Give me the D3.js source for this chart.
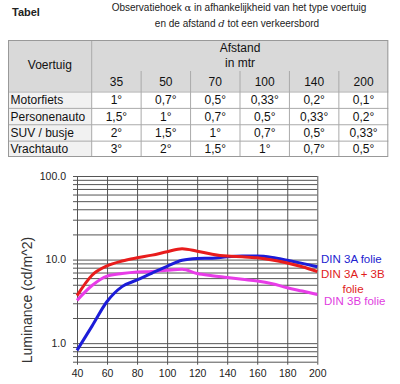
<!DOCTYPE html>
<html>
<head>
<meta charset="utf-8">
<script src="https://cdn.jsdelivr.net/npm/d3@7"></script>
<style>
  html, body { margin: 0; padding: 0; background: #fff; }
  svg { display: block; }
</style>
</head>
<body>
<div id="chart"></div>
<script>
// ---- table data ----
const distances = ['35', '50', '70', '100', '140', '200'];
const vehicles = ['Motorfiets', 'Personenauto', 'SUV / busje', 'Vrachtauto'];
const angles = [
  ['1°', '0,7°', '0,5°', '0,33°', '0,2°', '0,1°'],
  ['1,5°', '1°', '0,7°', '0,5°', '0,33°', '0,2°'],
  ['2°', '1,5°', '1°', '0,7°', '0,5°', '0,33°'],
  ['3°', '2°', '1,5°', '1°', '0,7°', '0,5°']
];

// ---- chart data ----
const xValues = [40, 50, 60, 70, 80, 90, 100, 110, 120, 130, 140, 150, 160, 170, 180, 190, 200];
const din3A   = [0.82, 1.6, 3.15, 4.75, 5.7, 6.9, 8.3, 9.8, 10.3, 10.4, 10.8, 11.0, 11.0, 10.6, 9.8, 9.0, 8.2];
const din3A3B = [3.7, 6.5, 8.4, 9.6, 10.5, 11.3, 12.4, 13.5, 12.6, 11.6, 11.0, 10.8, 10.5, 9.9, 9.1, 8.2, 7.2];
const din3B   = [3.25, 4.9, 6.35, 6.8, 7.1, 7.2, 7.45, 7.65, 6.8, 6.4, 6.1, 5.8, 5.55, 5.15, 4.6, 4.2, 3.83];
const xTicks = [40, 60, 80, 100, 120, 140, 160, 180, 200];
const yLabelTicks = [1, 10, 100];

const BLUE = '#1c1cd8';
const RED = '#e81c1c';
const MAGENTA = '#e83ce8';
const GRID = '#555';
const FONT = "'Liberation Sans', Arial, sans-serif";

const svg = d3.select('#chart').append('svg')
  .attr('width', 400)
  .attr('height', 384);

// ============================================================
// Heading + table
// ============================================================
svg.append('text')
  .attr('x', 12).attr('y', 16)
  .style('font-family', FONT).style('font-size', '11px').style('font-weight', 'bold')
  .style('fill', '#222')
  .text('Tabel');

const t1 = svg.append('text')
  .attr('x', 239).attr('y', 11)
  .attr('text-anchor', 'middle')
  .style('font-family', FONT).style('font-size', '10px').style('fill', '#222');
t1.append('tspan').text('Observatiehoek ');
t1.append('tspan').style('font-family', "'DejaVu Serif', serif").text('α');
t1.append('tspan').text(' in afhankelijkheid van het type voertuig');

const t2 = svg.append('text')
  .attr('x', 237).attr('y', 27)
  .attr('text-anchor', 'middle')
  .style('font-family', FONT).style('font-size', '10px').style('fill', '#222');
t2.append('tspan').text('en de afstand ');
t2.append('tspan').style('font-family', "'DejaVu Serif', serif").style('font-style', 'italic').text('d');
t2.append('tspan').text(' tot een verkeersbord');

const tbl = { left: 8, right: 388.3, top: 40, headBottom: 91.5, bottom: 157, firstCol: 91.7, numTop: 71 };
const colX = d3.scaleBand().domain(distances).range([tbl.firstCol, tbl.right]);
const rowY = d3.scaleBand().domain(vehicles).range([tbl.headBottom, tbl.bottom]);

const tg = svg.append('g');
tg.append('rect')
  .attr('x', tbl.left).attr('y', tbl.top)
  .attr('width', tbl.right - tbl.left).attr('height', tbl.headBottom - tbl.top)
  .attr('fill', '#d9d9d9');
tg.append('rect')
  .attr('x', tbl.left).attr('y', tbl.headBottom)
  .attr('width', tbl.firstCol - tbl.left).attr('height', tbl.bottom - tbl.headBottom)
  .attr('fill', '#f1f1f1');

// row lines
tg.selectAll('.hrow')
  .data(vehicles)
  .join('line')
  .attr('x1', tbl.left).attr('x2', tbl.right)
  .attr('y1', d => rowY(d) + 0.5).attr('y2', d => rowY(d) + 0.5)
  .attr('stroke', '#aaa');

// column lines
tg.selectAll('.vcol')
  .data(distances.slice(1))
  .join('line')
  .attr('x1', d => colX(d)).attr('x2', d => colX(d))
  .attr('y1', tbl.numTop).attr('y2', tbl.bottom)
  .attr('stroke', '#aaa');
tg.append('line')
  .attr('x1', tbl.firstCol).attr('x2', tbl.firstCol)
  .attr('y1', tbl.top).attr('y2', tbl.bottom)
  .attr('stroke', '#aaa');
tg.append('rect')
  .attr('x', tbl.left + 0.5).attr('y', tbl.top + 0.5)
  .attr('width', tbl.right - tbl.left - 1).attr('height', tbl.bottom - tbl.top - 1)
  .attr('fill', 'none').attr('stroke', '#999');

const cellText = sel => sel
  .style('font-family', FONT).style('font-size', '12px').style('fill', '#111')
  .attr('dominant-baseline', 'central');

tg.append('text').call(cellText)
  .attr('x', (tbl.left + tbl.firstCol) / 2).attr('y', 65)
  .attr('text-anchor', 'middle').text('Voertuig');
tg.append('text').call(cellText)
  .attr('x', (tbl.firstCol + tbl.right) / 2).attr('y', 48)
  .attr('text-anchor', 'middle').text('Afstand');
tg.append('text').call(cellText)
  .attr('x', (tbl.firstCol + tbl.right) / 2).attr('y', 63)
  .attr('text-anchor', 'middle').text('in mtr');
tg.selectAll('.dist')
  .data(distances)
  .join('text').call(cellText)
  .attr('x', d => colX(d) + colX.bandwidth() / 2).attr('y', 81.5)
  .attr('text-anchor', 'middle').text(d => d);
tg.selectAll('.veh')
  .data(vehicles)
  .join('text').call(cellText)
  .attr('x', 10.5).attr('y', d => rowY(d) + rowY.bandwidth() / 2 + 0.5)
  .text(d => d);
vehicles.forEach((v, i) => {
  tg.selectAll('.ang' + i)
    .data(angles[i])
    .join('text').call(cellText)
    .attr('x', (d, j) => colX(distances[j]) + colX.bandwidth() / 2)
    .attr('y', rowY(v) + rowY.bandwidth() / 2 + 0.5)
    .attr('text-anchor', 'middle')
    .text(d => d);
});

// ============================================================
// Luminance chart (log scale)
// ============================================================
const plot = { left: 77, right: 317.3, top: 176, bottom: 361.7 };
const x = d3.scaleLinear().domain([40, 200]).range([plot.left, plot.right]);
const y = d3.scaleLog().domain([0.6, 100]).range([plot.bottom, plot.top]);
const minorTicks = y.ticks();

const g = svg.append('g');

// horizontal grid + outside ticks
g.append('g')
  .attr('transform', `translate(${plot.left},0)`)
  .call(d3.axisLeft(y).tickValues(minorTicks).tickSizeInner(-(plot.right - plot.left)).tickSizeOuter(0).tickFormat(''))
  .call(a => a.select('.domain').remove())
  .call(a => a.selectAll('line').attr('x1', -4).attr('stroke', GRID).attr('stroke-width', 1));

// vertical grid + outside ticks
g.append('g')
  .attr('transform', `translate(0,${plot.bottom})`)
  .call(d3.axisBottom(x).tickValues(xTicks).tickSizeInner(-(plot.bottom - plot.top)).tickSizeOuter(0).tickFormat(''))
  .call(a => a.select('.domain').remove())
  .call(a => a.selectAll('line').attr('y1', 3).attr('stroke', GRID).attr('stroke-width', 1));

// y labels
g.append('g')
  .attr('transform', `translate(${plot.left},0)`)
  .call(d3.axisLeft(y).tickValues(yLabelTicks).tickSize(0).tickPadding(11).tickFormat(d3.format('.1f')))
  .call(a => a.select('.domain').remove())
  .call(a => a.selectAll('text').style('font-family', FONT).style('font-size', '10.5px').style('fill', '#222'));

// x labels
g.append('g')
  .attr('transform', `translate(0,${plot.bottom})`)
  .call(d3.axisBottom(x).tickValues(xTicks).tickSize(0).tickPadding(8).tickFormat(d3.format('d')))
  .call(a => a.select('.domain').remove())
  .call(a => a.selectAll('text').style('font-family', FONT).style('font-size', '10.5px').style('fill', '#222'));

// axis title
g.append('text')
  .attr('transform', 'translate(27,300) rotate(-90)')
  .attr('text-anchor', 'middle')
  .attr('dominant-baseline', 'central')
  .style('font-family', FONT).style('font-size', '14px').style('fill', '#333')
  .text('Luminance (cd/m^2)');

// series
const line = d3.line()
  .x((d, i) => x(xValues[i]))
  .y(d => y(d))
  .curve(d3.curveMonotoneX);

[[din3B, MAGENTA], [din3A, BLUE], [din3A3B, RED]].forEach(([vals, col]) => {
  g.append('path')
    .datum(vals)
    .attr('fill', 'none')
    .attr('stroke', col)
    .attr('stroke-width', 3)
    .attr('stroke-linejoin', 'round')
    .attr('d', line);
});

// legend labels
const legend = [
  { text: 'DIN 3A folie', col: '#2222d0', x: 321, y: 258.5, anchor: 'start' },
  { text: 'DIN 3A + 3B', col: '#e01c1c', x: 321, y: 273.5, anchor: 'start' },
  { text: 'folie', col: '#e01c1c', x: 353, y: 289, anchor: 'middle' },
  { text: 'DIN 3B folie', col: '#e03ce0', x: 324, y: 301, anchor: 'start' }
];
g.selectAll('.leg')
  .data(legend)
  .join('text')
  .attr('x', d => d.x).attr('y', d => d.y)
  .attr('text-anchor', d => d.anchor)
  .attr('dominant-baseline', 'central')
  .style('font-family', FONT).style('font-size', '11.5px')
  .style('fill', d => d.col)
  .text(d => d.text);
</script>
</body>
</html>
